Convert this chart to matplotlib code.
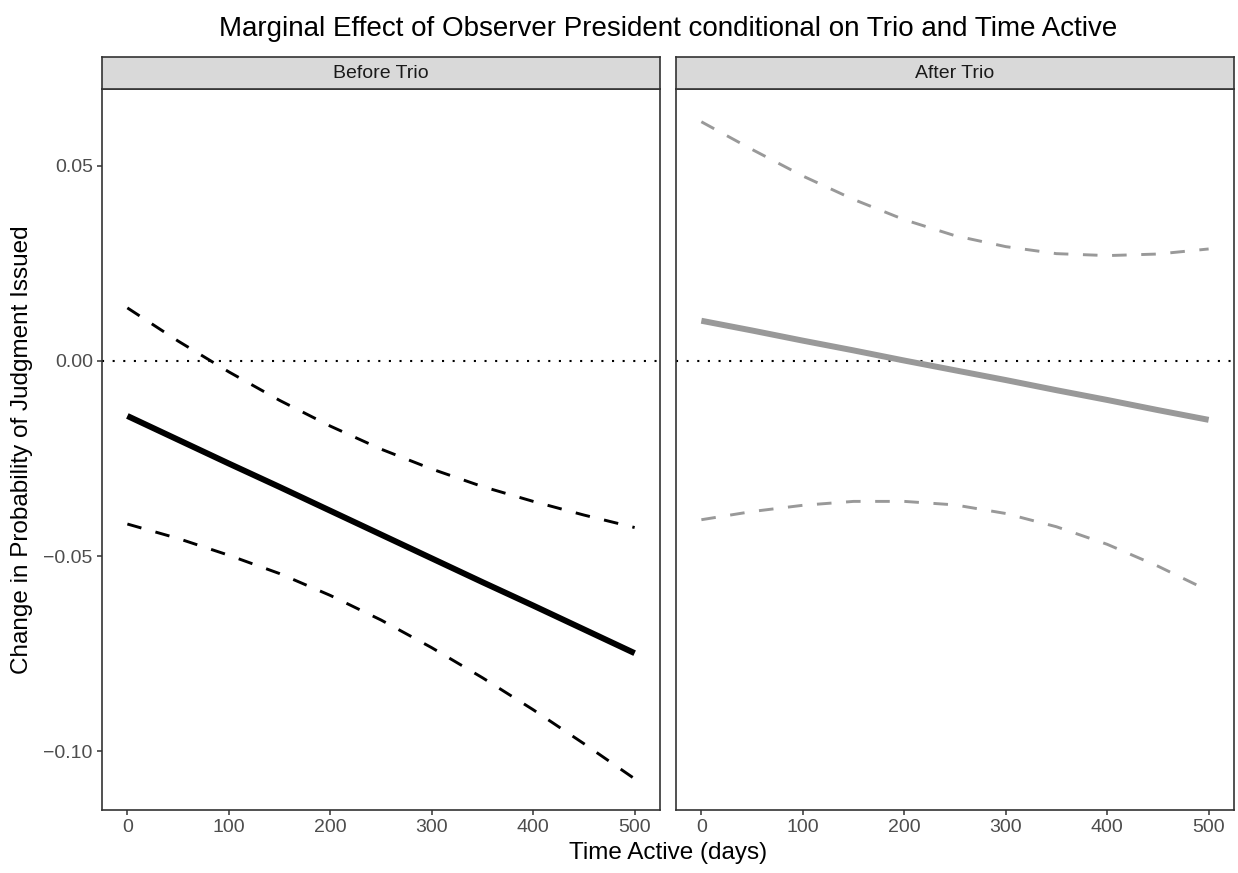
#!/usr/bin/env python3
# -*- coding: utf-8 -*-
"""
Marginal effect of Observer President, split by Trio period
"""

import matplotlib
matplotlib.use("Agg")
import matplotlib.pyplot as plt

# time active (days)
days = [0, 50, 100, 150, 200, 250, 300, 350, 400, 450, 500]

# before Trio
before_est = [-0.0141, -0.0202, -0.0263, -0.0323, -0.0384, -0.0445,
              -0.0506, -0.0567, -0.0627, -0.0688, -0.0749]
before_upper = [0.0136, 0.0051, -0.0028, -0.0101, -0.0167, -0.0226,
                -0.0277, -0.0322, -0.0360, -0.0395, -0.0427]
before_lower = [-0.0418, -0.0455, -0.0498, -0.0545, -0.0601, -0.0664,
                -0.0735, -0.0812, -0.0894, -0.0981, -0.1071]

# after Trio
after_est = [0.0103, 0.0078, 0.0052, 0.0027, 0.0001, -0.0024,
             -0.0049, -0.0075, -0.0100, -0.0126, -0.0151]
after_upper = [0.0613, 0.0542, 0.0474, 0.0414, 0.0362, 0.0321,
               0.0293, 0.0275, 0.0270, 0.0274, 0.0287]
after_lower = [-0.0407, -0.0386, -0.0370, -0.0360, -0.0360, -0.0369,
               -0.0391, -0.0425, -0.0470, -0.0526, -0.0589]

panel_titles = ["Before Trio", "After Trio"]
x_ticks = [0, 100, 200, 300, 400, 500]
y_ticks = [-0.10, -0.05, 0.00, 0.05]
y_tick_labels = ["\u22120.10", "\u22120.05", "0.00", "0.05"]

plt.rcParams["font.family"] = ["Liberation Sans", "DejaVu Sans"]

BORDER = "#333333"
TICK_TXT = "#4D4D4D"


def draw_panel(ax, est, upper, lower, color, show_y):
    """画一个面板：估计线、置信区间、零线"""
    ax.axhline(0, color="black", lw=1.5, linestyle=(0, (1, 4.1)), zorder=1)
    ax.plot(days, upper, color=color, lw=2.1, linestyle=(0, (5, 5)), zorder=2)
    ax.plot(days, lower, color=color, lw=2.1, linestyle=(0, (5, 5)), zorder=2)
    ax.plot(days, est, color=color, lw=4.3, solid_capstyle="butt", zorder=3)

    ax.set_xlim(-25, 525)
    ax.set_ylim(-0.1151, 0.0697)
    ax.set_xticks(x_ticks)
    ax.set_xticklabels([str(t) for t in x_ticks])
    if show_y:
        ax.set_yticks(y_ticks)
        ax.set_yticklabels(y_tick_labels)
    else:
        ax.set_yticks([])
    ax.tick_params(axis="both", length=3.6, width=1.1, color=BORDER,
                   labelsize=14, labelcolor=TICK_TXT, pad=3)
    for s in ax.spines.values():
        s.set_color(BORDER)
        s.set_linewidth(1.2)
    ax.set_facecolor("white")


def draw_strip(fig, rect, label):
    """面板上方的灰色标题条"""
    sax = fig.add_axes(rect)
    sax.set_facecolor("#D9D9D9")
    sax.set_xticks([])
    sax.set_yticks([])
    for s in sax.spines.values():
        s.set_color(BORDER)
        s.set_linewidth(1.2)
    sax.text(0.5, 0.5, label, ha="center", va="center",
             fontsize=14, color="#1A1A1A", transform=sax.transAxes)


def main():
    W, H = 1238, 873
    fig = plt.figure(figsize=(W / 100, H / 100), dpi=100)

    top, bottom = 89, 810
    strip_top = 57
    panels = [(102, 660), (676, 1234)]
    data = [
        (before_est, before_upper, before_lower, "black"),
        (after_est, after_upper, after_lower, "#999999"),
    ]

    for i, ((x0, x1), (est, up, lo, col)) in enumerate(zip(panels, data)):
        ax = fig.add_axes([x0 / W, 1 - bottom / H, (x1 - x0) / W, (bottom - top) / H])
        draw_panel(ax, est, up, lo, col, show_y=(i == 0))
        draw_strip(fig, [x0 / W, 1 - top / H, (x1 - x0) / W, (top - strip_top) / H],
                   panel_titles[i])

    mid_x = (panels[0][0] + panels[1][1]) / 2 / W
    fig.text(mid_x, 1 - 29 / H,
             "Marginal Effect of Observer President conditional on Trio and Time Active",
             ha="center", va="center", fontsize=20, color="black")
    fig.text(mid_x, 1 - 842 / H, "Time Active (days)",
             ha="center", va="top", fontsize=17.5, color="black")
    fig.text(22 / W, 1 - (top + bottom) / 2 / H,
             "Change in Probability of Judgment Issued",
             ha="center", va="center", rotation=90, fontsize=17.5, color="black")

    fig.savefig("out.png", dpi=100)
    plt.close(fig)


if __name__ == "__main__":
    main()
